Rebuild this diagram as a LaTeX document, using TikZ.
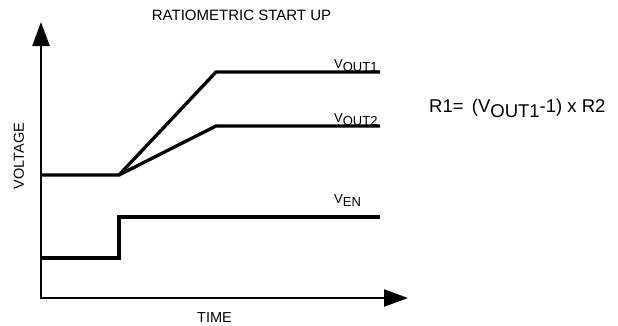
\documentclass[tikz,border=0pt]{standalone}
\usepackage{fontspec}
\setmainfont{Liberation Sans}
\usetikzlibrary{arrows.meta}

% subindice bajado, como en la figura
\newcommand{\lowsub}[1]{\raisebox{-0.3em}{#1}}

\tikzset{
  eje/.style={line width=2.4pt, {Triangle[length=24pt,width=17pt]}-{Triangle[length=24pt,width=17pt]}},
  traza/.style={line width=3.3pt, line join=miter},
  etiqueta/.style={font=\fontsize{13}{14}\selectfont, inner sep=0pt},
  ejetexto/.style={font=\fontsize{14.5}{16}\selectfont, inner sep=0pt}
}

\begin{document}
\begin{tikzpicture}[x=1pt,y=-1pt]
	\useasboundingbox (0,0) rectangle (618,325);

	% Titulo
	\node[font=\fontsize{15}{17}\selectfont, inner sep=0pt, anchor=base] (titulo) at (241.5,20) {RATIOMETRIC START UP};

	% Ejes x e y
	\draw[eje] (41,22) -- (41,298) -- (408,298);
	\node[ejetexto, rotate=90] (voltaje) at (19,156) {VOLTAGE};
	\node[ejetexto, anchor=base] (tiempo) at (214.5,322) {TIME};

	% Salidas
	\draw[traza] (41,175) -- (119,175) -- (216,72) -- (380,72);
	\draw[traza] (119,175) -- (216,126) -- (380,126);

	% Habilitacion
	\draw[traza] (41,258) -- (119,258) -- (119,217) -- (380,217);

	% Etiquetas de las trazas
	\node[etiqueta, anchor=base west] (vout1) at (334,68) {V\lowsub{OUT1}};
	\node[etiqueta, anchor=base west] (vout2) at (334,122) {V\lowsub{OUT2}};
	\node[etiqueta, anchor=base west] (ven) at (334,203) {V\lowsub{EN}};

	% Formula
	\node[font=\fontsize{18.5}{20}\selectfont, inner sep=0pt, anchor=base west] (formula) at (429,112)
		{R1=\, (V\lowsub{OUT1}-1) x R2};
\end{tikzpicture}
\end{document}
